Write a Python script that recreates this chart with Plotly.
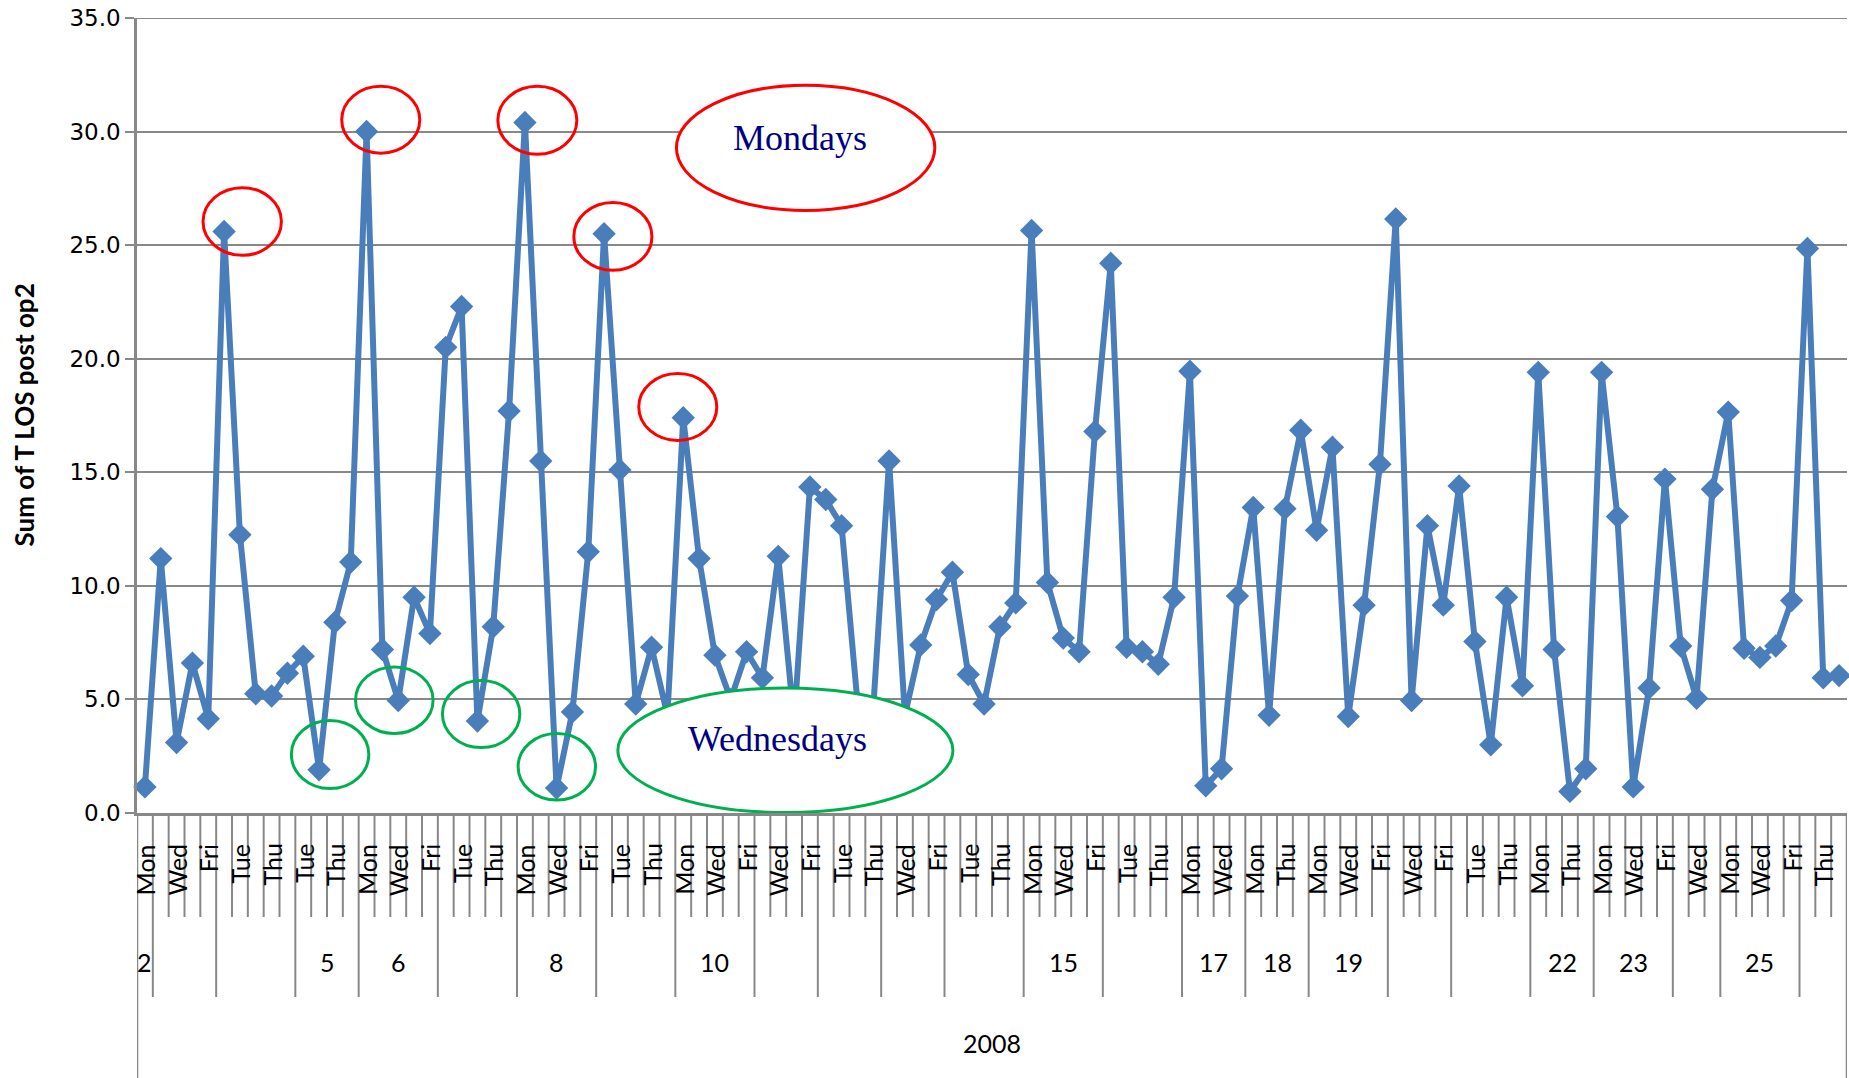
import plotly.graph_objects as go

# ---------------- data ----------------
year = "2008"
week_of_cat = ([2] + [3]*4 + [4]*5 + [5]*4 + [6]*5 + [7]*5 + [8]*5 + [9]*5 + [10]*5 +
               [11]*4 + [12]*4 + [13]*4 + [14]*5 + [15]*5 + [16]*5 + [17]*4 + [18]*4 +
               [19]*5 + [20]*4 + [21]*5 + [22]*4 + [23]*5 + [24]*3 + [25]*5 + [26]*3)
days = [
    "Mon",
    "Tue", "Wed", "Thu", "Fri",
    "Mon", "Tue", "Wed", "Thu", "Fri",
    "Tue", "Wed", "Thu", "Fri",
    "Mon", "Tue", "Wed", "Thu", "Fri",
    "Mon", "Tue", "Wed", "Thu", "Fri",
    "Mon", "Tue", "Wed", "Thu", "Fri",
    "Mon", "Tue", "Wed", "Thu", "Fri",
    "Mon", "Tue", "Wed", "Thu", "Fri",
    "Tue", "Wed", "Thu", "Fri",
    "Mon", "Tue", "Wed", "Thu",
    "Tue", "Wed", "Thu", "Fri",
    "Mon", "Tue", "Wed", "Thu", "Fri",
    "Mon", "Tue", "Wed", "Thu", "Fri",
    "Mon", "Tue", "Wed", "Thu", "Fri",
    "Mon", "Tue", "Wed", "Thu",
    "Mon", "Wed", "Thu", "Fri",
    "Mon", "Tue", "Wed", "Thu", "Fri",
    "Tue", "Wed", "Thu", "Fri",
    "Mon", "Tue", "Wed", "Thu", "Fri",
    "Mon", "Tue", "Thu", "Fri",
    "Mon", "Tue", "Wed", "Thu", "Fri",
    "Tue", "Wed", "Thu",
    "Mon", "Tue", "Wed", "Thu", "Fri",
    "Wed", "Thu", "Fri",
]
values = [
    1.15, 11.2, 3.1, 6.6, 4.15, 25.6, 12.25, 5.25, 5.15, 6.15,
    6.9, 1.9, 8.4, 11.05, 30.0, 7.2, 4.95, 9.5, 7.9, 20.5,
    22.3, 4.05, 8.2, 17.7, 30.4, 15.5, 1.1, 4.45, 11.5, 25.5,
    15.1, 4.8, 7.3, 4.3, 17.4, 11.2, 6.95, 5.0, 7.1, 5.95,
    11.3, 4.0, 14.35, 13.8, 12.65, 4.9, 4.6, 15.5, 4.3, 7.4,
    9.4, 10.6, 6.1, 4.8, 8.2, 9.25, 25.65, 10.15, 7.7, 7.1,
    16.8, 24.2, 7.3, 7.1, 6.55, 9.5, 19.45, 1.2, 1.95, 9.55,
    13.45, 4.3, 13.4, 16.85, 12.45, 16.1, 4.25, 9.15, 15.35, 26.15,
    4.95, 12.65, 9.15, 14.4, 7.55, 3.0, 9.5, 5.6, 19.4, 7.2,
    0.95, 1.95, 19.4, 13.05, 1.15, 5.5, 14.7, 7.35, 5.05, 14.25,
    17.65, 7.25, 6.85, 7.35, 9.35, 24.85, 5.95, 6.05,
]
y_ticks = [0, 5, 10, 15, 20, 25, 30, 35]
y_title = "Sum of T LOS post op2"

# ---------------- layout constants ----------------
W, H = 1849, 1078
PLOT_LEFT, PLOT_RIGHT, PLOT_TOP, AXIS_Y = 137, 1847, 18, 813   # pixels
ML, MR, MT, MB = PLOT_LEFT, W - PLOT_RIGHT, PLOT_TOP, H - AXIS_Y
PLOT_H = AXIS_Y - PLOT_TOP
PLOT_W = PLOT_RIGHT - PLOT_LEFT


def py(p):
    """pixel row -> paper y"""
    return (AXIS_Y - p) / PLOT_H


GRID = "#888888"
BLUE = "#4A7EBB"
LBL_FONT = dict(family="Lato, Carlito, Calibri, sans-serif", size=25, color="black")

n = len(values)
x = list(range(n))

fig = go.Figure()
fig.add_trace(go.Scatter(
    x=x, y=values, mode="lines+markers",
    line=dict(color=BLUE, width=6),
    marker=dict(symbol="diamond", size=18, color=BLUE),
    hoverinfo="skip", showlegend=False, cliponaxis=False,
))

shapes = []
annotations = []

# top gridline (sits on the plot edge)
shapes.append(dict(type="line", xref="paper", yref="y", x0=0, x1=1,
                   y0=y_ticks[-1], y1=y_ticks[-1], line=dict(color=GRID, width=2),
                   layer="below"))

# group boundaries from the week array
starts = [i for i in range(n) if i == 0 or week_of_cat[i] != week_of_cat[i - 1]]
ends = starts[1:] + [n]

# category boundaries
for i in range(1, n):
    if i in starts:
        continue
    shapes.append(dict(type="line", xref="x", yref="paper", x0=i - 0.5, x1=i - 0.5,
                       y0=py(AXIS_Y), y1=py(917), line=dict(color=GRID, width=2)))
# week boundaries
for s in starts[1:]:
    shapes.append(dict(type="line", xref="x", yref="paper", x0=s - 0.5, x1=s - 0.5,
                       y0=py(AXIS_Y), y1=py(997), line=dict(color=GRID, width=2)))
# year boundaries
for b in (-0.5, n - 0.5):
    shapes.append(dict(type="line", xref="x", yref="paper", x0=b, x1=b,
                       y0=py(AXIS_Y), y1=py(H + 5), line=dict(color=GRID, width=2.5)))

# day labels (every other category)
for i in range(0, n, 2):
    annotations.append(dict(x=i, xref="x", y=py(842), yref="paper", text=days[i],
                            textangle=-90, showarrow=False, xanchor="center", yanchor="top",
                            font=LBL_FONT))
# week labels (only when group starts on a labelled category)
for s, e in zip(starts, ends):
    if s % 2 == 0:
        annotations.append(dict(x=(s + e - 1) / 2, xref="x", y=py(962), yref="paper",
                                text=str(week_of_cat[s]), showarrow=False,
                                xanchor="center", yanchor="middle", font=LBL_FONT))
# year label
annotations.append(dict(x=(n - 1) / 2, xref="x", y=py(1043), yref="paper", text=year,
                        showarrow=False, xanchor="center", yanchor="middle", font=LBL_FONT))
# y title
annotations.append(dict(x=(23 - PLOT_LEFT) / PLOT_W, xref="paper", y=0.5, yref="paper",
                        text="<b>" + y_title + "</b>", textangle=-90, showarrow=False,
                        xanchor="center", yanchor="middle",
                        font=dict(family="Lato, Carlito, Calibri, sans-serif", size=26, color="black")))

# hand-drawn callouts (data-unit boxes)
RED, GREEN = "#FF0000", "#00B050"
red_boxes = [(3.67, 8.62, 24.55, 27.53), (12.43, 17.36, 29.05, 31.99),
             (22.29, 27.28, 29.0, 31.99), (27.09, 32.02, 23.89, 26.88),
             (31.19, 36.12, 16.40, 19.35)]
green_boxes = [(9.25, 14.14, 1.08, 4.07), (13.30, 18.20, 3.50, 6.43),
               (18.79, 23.68, 2.88, 5.83), (23.57, 28.46, 0.57, 3.50)]
for (a, b, c, d) in red_boxes:
    shapes.append(dict(type="circle", xref="x", yref="y", x0=a, x1=b, y0=c, y1=d,
                       line=dict(color=RED, width=3), layer="above"))
for (a, b, c, d) in green_boxes:
    shapes.append(dict(type="circle", xref="x", yref="y", x0=a, x1=b, y0=c, y1=d,
                       line=dict(color=GREEN, width=3), layer="above"))
shapes.append(dict(type="circle", xref="x", yref="y", x0=33.57, x1=49.89, y0=26.53, y1=32.04,
                   line=dict(color=RED, width=3), fillcolor="white", layer="above"))
shapes.append(dict(type="circle", xref="x", yref="y", x0=29.87, x1=51.03, y0=0.02, y1=5.50,
                   line=dict(color=GREEN, width=3), fillcolor="white", layer="above"))
SERIF = dict(family="Liberation Serif, Times New Roman, serif", size=36, color="#000080")
annotations.append(dict(x=41.4, y=29.72, xref="x", yref="y", text="Mondays",
                        showarrow=False, font=SERIF))
annotations.append(dict(x=39.95, y=3.28, xref="x", yref="y", text="Wednesdays",
                        showarrow=False, font=SERIF))

fig.update_layout(
    width=W, height=H,
    margin=dict(l=ML, r=MR, t=MT, b=MB, pad=0),
    paper_bgcolor="white", plot_bgcolor="white",
    shapes=shapes, annotations=annotations,
    xaxis=dict(range=[-0.5, n - 0.5], showticklabels=False, ticks="", showgrid=False,
               zeroline=False, showline=True, linecolor=GRID, linewidth=2.5, fixedrange=True,
               automargin=False),
    yaxis=dict(range=[0, 35], tickvals=y_ticks, tickformat=".1f", showgrid=True,
               gridcolor=GRID, gridwidth=2, zeroline=False, showline=True,
               linecolor=GRID, linewidth=2.5, ticks="outside", ticklen=9,
               tickcolor=GRID, tickwidth=2, automargin=False, ticklabeloverflow="allow",
               tickfont=dict(family="DejaVu Sans, sans-serif", size=23, color="black"),
               fixedrange=True),
)

# remove the browser's default 8px page margin so the figure fills the window exactly
fig.write_html("out.html", config={"displayModeBar": False},
               post_script="document.body.style.margin='0px';")
